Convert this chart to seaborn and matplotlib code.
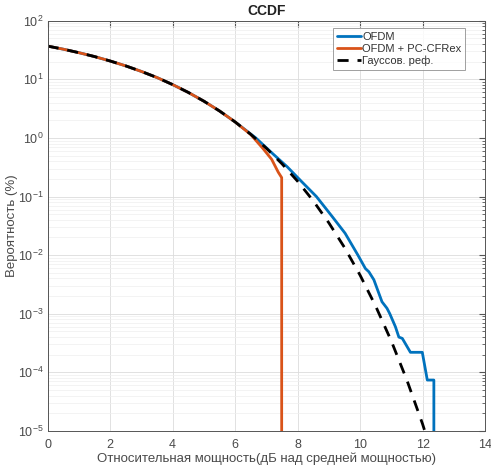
import numpy as np
import pandas as pd
import matplotlib
matplotlib.use("Agg")
import matplotlib.pyplot as plt
import matplotlib.ticker as mticker
import seaborn as sns

# Relative power (dB above mean) and CCDF values (%)
gauss_db = [0.0, 0.5, 1.0, 1.5, 2.0, 2.5, 3.0, 3.5, 4.0, 4.5, 5.0, 5.5, 6.0,
            6.5, 7.0, 7.5, 8.0, 8.5, 9.0, 9.5, 10.0, 10.5, 11.0, 11.5, 12.0, 12.2]
gauss_pct = [36.8, 32.6, 28.4, 24.4, 20.5, 16.9, 13.6, 10.7, 8.11, 5.97, 4.23, 2.88, 1.87,
             1.15, 0.666, 0.361, 0.182, 0.0843, 0.0355, 0.0135, 0.00454, 0.00134,
             3.41e-4, 7.3e-5, 1.31e-5, 6.0e-6]

ofdm_db = [0.0, 0.5, 1.0, 1.5, 2.0, 2.5, 3.0, 3.5, 4.0, 4.5, 5.0, 5.5, 6.0,
           6.66, 7.2, 7.67, 8.1, 8.6, 9.1, 9.52, 9.93, 10.17, 10.28, 10.44, 10.7,
           10.86, 10.95, 11.13, 11.24, 11.35, 11.61, 11.99, 12.15, 12.36, 12.36]
ofdm_pct = [36.8, 32.6, 28.4, 24.4, 20.5, 16.9, 13.6, 10.7, 8.11, 5.97, 4.23, 2.88, 1.87,
            1.0, 0.54, 0.32, 0.186, 0.1, 0.046, 0.0236, 0.01, 0.0059, 0.0052, 0.0038, 0.0016,
            0.00124, 0.001, 6.0e-4, 4.0e-4, 3.8e-4, 2.2e-4, 2.2e-4, 7.4e-5, 7.4e-5, 1e-7]

cfr_db = [0.0, 0.5, 1.0, 1.5, 2.0, 2.5, 3.0, 3.5, 4.0, 4.5, 5.0, 5.5, 6.0,
          6.5, 6.9, 7.17, 7.38, 7.49, 7.49]
cfr_pct = [36.8, 32.6, 28.4, 24.4, 20.5, 16.9, 13.6, 10.7, 8.11, 5.97, 4.23, 2.88, 1.87,
           1.14, 0.65, 0.43, 0.26, 0.21, 1e-7]

labels = ["OFDM", "OFDM + PC-CFRex", "Гауссов. реф."]
colors = ["#0072BD", "#D95319", "black"]

sns.set_style("white")
plt.rcParams["font.family"] = ["Liberation Sans", "DejaVu Sans"]
plt.rcParams["mathtext.fontset"] = "custom"
plt.rcParams["mathtext.rm"] = "Liberation Sans"
plt.rcParams["mathtext.it"] = "Liberation Sans:italic"
plt.rcParams["mathtext.bf"] = "Liberation Sans:bold"

fig = plt.figure(figsize=(4.91, 4.69), dpi=100)
ax = fig.add_axes([0.097, 0.081, 0.891, 0.875])
ax.set_yscale("log")

series = [
    (ofdm_db, ofdm_pct, labels[0], colors[0], "-"),
    (cfr_db, cfr_pct, labels[1], colors[1], "-"),
    (gauss_db, gauss_pct, labels[2], colors[2], "--"),
]
for xs, ys, name, col, ls in series:
    df = pd.DataFrame({"db": xs, "pct": ys})
    sns.lineplot(data=df, x="db", y="pct", ax=ax, color=col, linestyle=ls,
                 linewidth=2.0, sort=False, estimator=None, label=name,
                 dashes=False)
ax.lines[-1].set_dashes([4, 3.2])

ax.set_xlim(0, 14)
ax.set_ylim(1e-5, 1e2)
ax.set_xticks(np.arange(0, 15, 2))
ax.yaxis.set_major_locator(mticker.LogLocator(base=10, numticks=10))
ax.yaxis.set_minor_locator(mticker.LogLocator(base=10, subs=np.arange(2, 10), numticks=20))
ax.yaxis.set_minor_formatter(mticker.NullFormatter())
ax.xaxis.offsetText.set_visible(False)
ax.yaxis.offsetText.set_visible(False)

txt = "#4a4a4a"
ax.grid(True, which="major", color="#dcdcdc", linewidth=0.6)
ax.grid(True, which="minor", axis="y", color="#efefef", linewidth=0.5)
ax.set_axisbelow(True)
for s in ax.spines.values():
    s.set_color("#555555")
    s.set_linewidth(0.7)
ax.tick_params(which="both", direction="in", top=True, right=True,
               colors="#555555", labelcolor=txt, labelsize=9)
ax.tick_params(which="major", length=4)
ax.tick_params(axis="x", which="major", pad=6)
ax.tick_params(axis="y", which="major", pad=3)
ax.tick_params(which="minor", length=2)

ax.set_title("CCDF", fontsize=10, fontweight="bold", color="#222222", pad=4)
ax.set_xlabel("Относительная мощность(дБ над средней мощностью)", fontsize=9.5,
              color=txt)
ax.set_ylabel("Вероятность (%)", fontsize=9.5, color=txt)
ax.xaxis.set_label_coords(0.5, -0.053)
ax.yaxis.set_label_coords(-0.068, 0.5)

leg = ax.legend(loc="upper right", bbox_to_anchor=(0.955, 0.982), fontsize=8,
                frameon=True, fancybox=False, handlelength=2.2, handletextpad=0.1,
                borderpad=0.35, labelspacing=0.15, borderaxespad=0.0)
leg.get_frame().set_edgecolor("#888888")
leg.get_frame().set_linewidth(0.7)
for t in leg.get_texts():
    t.set_color("#333333")

fig.savefig("out.png", dpi=100)
